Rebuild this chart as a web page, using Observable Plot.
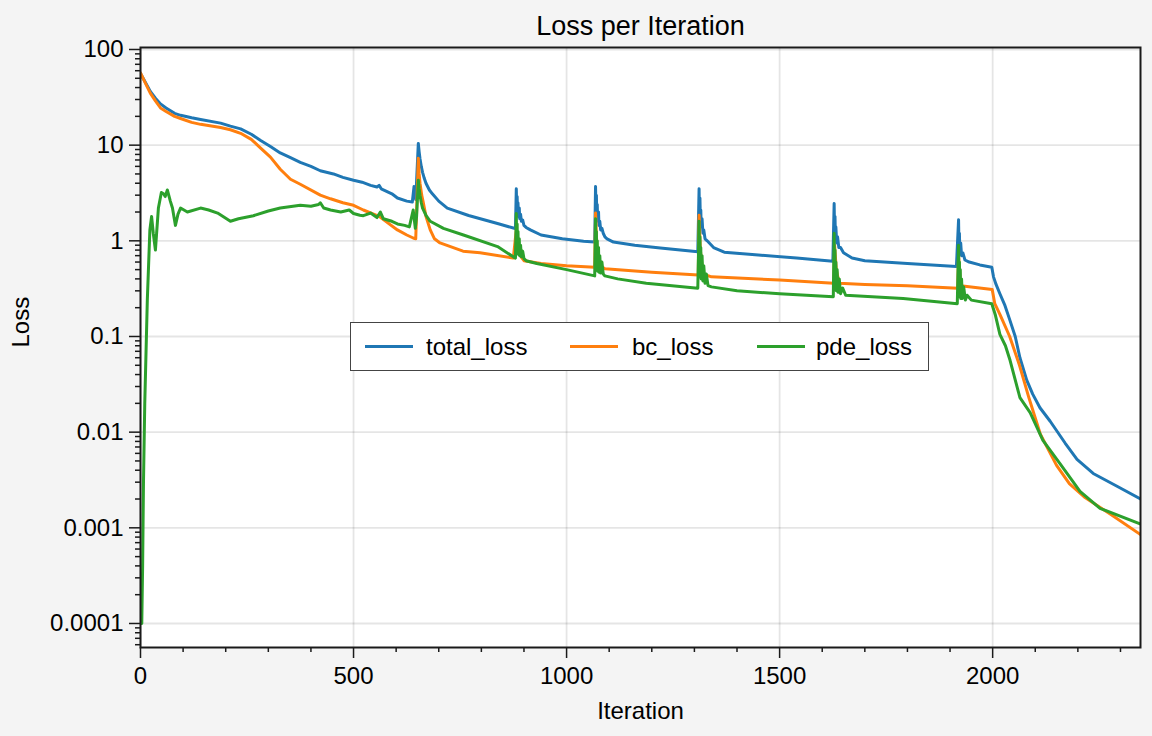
<!DOCTYPE html>
<html>
<head>
<meta charset="utf-8">
<script src="https://cdn.jsdelivr.net/npm/d3@7"></script>
<script src="https://cdn.jsdelivr.net/npm/@observablehq/plot@0.6"></script>
<style>
  html, body { margin: 0; padding: 0; background: #f4f4f4; }
  #wrap { position: relative; width: 1152px; height: 736px; font-family: "Liberation Sans", Arial, Helvetica, sans-serif; }
  #legend { position: absolute; left: 350px; top: 322px; width: 577px; height: 47px; background: #fff; border: 1.5px solid #444; }
  .sw { position: absolute; height: 3px; width: 48px; top: 22px; }
  .lt { position: absolute; top: 11px; font-size: 24px; line-height: 25px; color: #000; }
</style>
</head>
<body>
<div id="wrap"></div>
<script>
const seriesNames = ["total_loss", "bc_loss", "pde_loss"];
const seriesColors = ["#1f77b4", "#ff7f0e", "#2ca02c"];

const totalIter = [0,12,23,35,47,60,80,94,120,141,188,211,235,260,282,305,328,352,375,400,422,453,475,500,520,540,555,560,565,590,603,625,638,642,646,652,654,656,659,662,666,670,678,685,700,720,770,840,875,880,882,883,884,885,886,887,889,890,892,894,897,900,905,915,940,990,1040,1066,1068,1069,1070,1071,1072,1073,1075,1076,1078,1080,1083,1086,1090,1095,1110,1160,1220,1308,1311,1312,1313,1314,1315,1316,1318,1320,1322,1325,1330,1345,1370,1450,1540,1625,1628,1629,1630,1631,1632,1634,1636,1639,1643,1650,1670,1700,1800,1915,1920,1921,1922,1923,1925,1927,1930,1935,1945,1970,1998,2002,2008,2017,2029,2040,2053,2064,2080,2094,2111,2135,2170,2198,2236,2293,2347];
const totalLoss = [56,45,36.5,31,27,24.5,21.5,20.5,19.3,18.5,17,15.8,14.8,13,11.2,9.7,8.3,7.4,6.6,6.0,5.4,5.0,4.6,4.3,4.1,3.8,3.65,3.8,3.5,3.1,2.8,2.6,2.55,3.7,2.7,10.4,8.5,7.2,6.0,5.2,4.5,4.0,3.4,3.1,2.6,2.2,1.84,1.51,1.36,1.34,3.5,2.2,2.9,1.9,2.5,1.8,2.2,1.7,1.9,1.6,1.65,1.45,1.38,1.3,1.15,1.05,0.99,0.97,3.7,2.0,3.0,1.8,2.4,1.6,2.0,1.45,1.6,1.3,1.35,1.2,1.1,1.05,0.97,0.9,0.84,0.77,3.5,1.8,2.8,1.6,2.1,1.4,1.7,1.2,1.3,1.05,1.0,0.85,0.76,0.71,0.66,0.61,2.45,1.2,1.8,1.05,1.4,0.95,1.1,0.85,0.85,0.75,0.66,0.62,0.58,0.54,1.66,0.85,1.2,0.75,0.95,0.7,0.75,0.63,0.6,0.56,0.53,0.42,0.35,0.28,0.21,0.15,0.1,0.06,0.035,0.025,0.018,0.013,0.0077,0.0052,0.0037,0.0027,0.002];

const bcIter = [0,12,23,35,47,60,80,94,120,141,188,211,235,260,282,305,328,352,375,422,446,475,500,523,560,603,625,640,646,652,654,656,660,663,670,680,690,703,757,797,875,882,886,900,940,1000,1066,1068,1071,1076,1090,1200,1309,1311,1314,1320,1340,1500,1627,1629,1633,1640,1700,1800,1918,1920,1925,1999,2005,2017,2040,2063,2085,2112,2150,2180,2215,2275,2347];
const bcLoss = [57,44,35,29,24.5,22.5,20,19,17.3,16.5,15.3,14.5,13.3,11.5,9.3,7.5,5.6,4.4,3.9,3.0,2.75,2.5,2.35,2.1,1.8,1.3,1.15,1.07,1.05,7.3,5.0,4.0,3.0,2.6,1.8,1.3,1.05,0.95,0.78,0.75,0.66,1.3,0.75,0.62,0.58,0.55,0.53,1.95,0.9,0.56,0.51,0.47,0.44,1.85,0.8,0.45,0.42,0.39,0.36,0.9,0.5,0.36,0.35,0.34,0.32,0.7,0.34,0.31,0.22,0.17,0.1,0.05,0.023,0.0095,0.0045,0.0029,0.0021,0.0014,0.00085];

const pdeIter = [0,3,5,7,10,16,22,26,30,35,42,49,54,58,63,70,75,82,88,94,110,141,160,181,211,230,265,300,328,375,400,418,422,430,446,470,490,500,515,523,540,555,563,570,590,603,620,631,640,645,648,652,654,656,659,662,670,680,711,758,838,875,880,882,883,884,885,886,887,889,890,892,894,897,900,905,930,1000,1066,1068,1069,1070,1071,1072,1073,1075,1076,1078,1080,1083,1086,1090,1120,1187,1308,1311,1312,1313,1314,1315,1316,1318,1320,1322,1325,1328,1332,1340,1400,1500,1626,1628,1629,1630,1631,1632,1633,1635,1637,1640,1643,1648,1655,1790,1917,1920,1921,1922,1923,1924,1925,1927,1929,1932,1936,1940,1950,1998,2006,2017,2030,2041,2064,2088,2118,2158,2205,2252,2346];
const pdeLoss = [0.0001,0.0001,0.0004,0.003,0.02,0.24,1.3,1.8,1.2,0.8,2.2,3.2,3.1,2.9,3.4,2.6,2.2,1.45,1.9,2.2,2.0,2.2,2.1,1.95,1.6,1.7,1.83,2.05,2.2,2.35,2.3,2.4,2.5,2.2,2.1,2.0,2.1,1.93,1.85,1.83,1.95,1.75,2.0,1.7,1.6,1.5,1.45,1.4,2.1,1.35,1.8,4.3,3.5,3.0,2.5,2.2,1.85,1.6,1.35,1.15,0.87,0.68,0.66,1.93,0.8,1.5,0.75,1.25,0.72,1.05,0.7,0.9,0.68,0.78,0.65,0.62,0.58,0.5,0.43,1.7,0.55,1.25,0.5,1.0,0.48,0.85,0.47,0.7,0.46,0.6,0.45,0.43,0.4,0.36,0.32,1.6,0.45,1.1,0.42,0.85,0.4,0.7,0.38,0.55,0.36,0.45,0.34,0.33,0.3,0.28,0.26,1.2,0.35,0.8,0.32,0.6,0.3,0.5,0.29,0.4,0.28,0.32,0.27,0.25,0.22,0.9,0.27,0.6,0.26,0.5,0.25,0.4,0.25,0.33,0.24,0.27,0.24,0.22,0.17,0.105,0.08,0.056,0.023,0.016,0.0082,0.0047,0.0024,0.0016,0.0011];

const xMajorTicks = [0, 500, 1000, 1500, 2000];
const xMinorTicks = [100,200,300,400,600,700,800,900,1100,1200,1300,1400,1600,1700,1800,1900,2100,2200,2300];
const yMajorTicks = [0.0001, 0.001, 0.01, 0.1, 1, 10, 100];
const yTickLabels = ["0.0001", "0.001", "0.01", "0.1", "1", "10", "100"];
const yMinorTicks = [];
for (let e = -5; e <= 1; e++) for (let m = 2; m <= 9; m++) {
  const v = +(m * Math.pow(10, e)).toPrecision(3);
  if (v >= 5.6e-5 && v <= 105) yMinorTicks.push(v);
}

const toRows = (xs, ys, name) => xs.map((x, i) => ({iter: x, loss: ys[i], series: name}));
const rows = [
  ...toRows(totalIter, totalLoss, seriesNames[0]),
  ...toRows(bcIter, bcLoss, seriesNames[1]),
  ...toRows(pdeIter, pdeLoss, seriesNames[2])
];

const labelOf = new Map(yMajorTicks.map((v, i) => [v, yTickLabels[i]]));
const ink = "#1a1a1a";

const chart = Plot.plot({
  width: 1152,
  height: 736,
  marginLeft: 140,
  marginRight: 12,
  marginTop: 47,
  marginBottom: 89,
  style: {background: "#f4f4f4", fontFamily: "'Liberation Sans', Arial, Helvetica, sans-serif", fontSize: "24px", color: "#000"},
  x: {domain: [0, 2347]},
  y: {type: "log", domain: [5.61e-5, 104.9]},
  color: {domain: seriesNames, range: seriesColors},
  marks: [
    Plot.frame({fill: "white"}),
    Plot.gridY(yMajorTicks, {stroke: "#000", strokeOpacity: 0.1, strokeWidth: 1.8}),
    Plot.gridX(xMajorTicks, {stroke: "#000", strokeOpacity: 0.1, strokeWidth: 1.8}),
    Plot.line(rows, {x: "iter", y: "loss", z: "series", stroke: "series", strokeWidth: 3, clip: true, strokeLinejoin: "round"}),
    Plot.axisX({ticks: xMinorTicks, tickSize: 5, text: null, label: null, stroke: ink, strokeWidth: 1.5}),
    Plot.axisX({ticks: xMajorTicks, tickSize: 11, tickPadding: 8, tickFormat: d3.format("d"), label: null, stroke: ink, strokeWidth: 1.5, fontSize: 24}),
    Plot.axisY({ticks: yMinorTicks, tickSize: 5, text: null, label: null, stroke: ink, strokeWidth: 1.5}),
    Plot.axisY({ticks: yMajorTicks, tickSize: 11, tickPadding: 6, tickFormat: d => labelOf.get(d), label: null, stroke: ink, strokeWidth: 1.5, fontSize: 24}),
    Plot.frame({stroke: ink, strokeWidth: 2}),
    Plot.text(["Loss per Iteration"], {text: d => d, frameAnchor: "top", dy: -21, fontSize: 27, lineAnchor: "middle"}),
    Plot.text(["Iteration"], {text: d => d, frameAnchor: "bottom", dy: 64, fontSize: 24, lineAnchor: "middle"}),
    Plot.text(["Loss"], {text: d => d, frameAnchor: "left", dx: -119, rotate: -90, fontSize: 24, lineAnchor: "middle"})
  ]
});

const wrap = document.getElementById("wrap");
wrap.appendChild(chart);

const legend = document.createElement("div");
legend.id = "legend";
const swLeft = [14, 219, 406];
const txtLeft = [75, 281, 465];
seriesNames.forEach((name, i) => {
  const sw = document.createElement("div");
  sw.className = "sw";
  sw.style.left = swLeft[i] + "px";
  sw.style.background = seriesColors[i];
  legend.appendChild(sw);
  const t = document.createElement("div");
  t.className = "lt";
  t.style.left = txtLeft[i] + "px";
  t.textContent = name;
  legend.appendChild(t);
});
wrap.appendChild(legend);
</script>
</body>
</html>
